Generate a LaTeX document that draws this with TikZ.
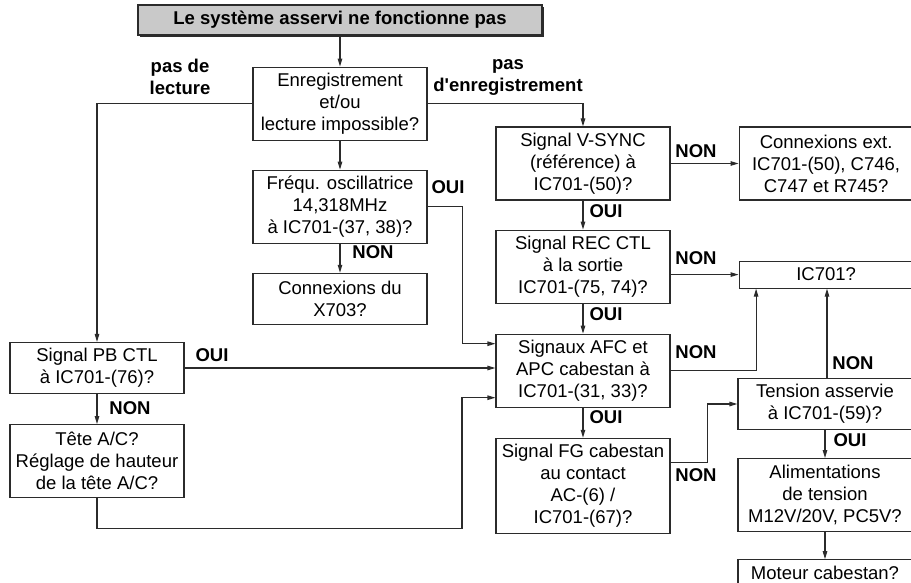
\documentclass[tikz,border=0pt]{standalone}
\usepackage{fontspec}
\setmainfont{Liberation Sans}
\usepackage{tikz}
\usetikzlibrary{arrows.meta, positioning, calc, shadows}
\definecolor{boxdraw}{HTML}{2B2B2B}
\definecolor{titlefill}{HTML}{C9C9C9}
\tikzset{
  blk/.style={rectangle, draw=boxdraw, line width=1.1pt, align=center, font=\fontsize{18.5pt}{22pt}\selectfont, inner xsep=1pt, inner ysep=0pt, minimum width=174pt},
  l1/.style={blk, minimum height=27pt},
  l2/.style={blk, minimum height=51pt},
  l3/.style={blk, minimum height=73pt},
  l4/.style={blk, minimum height=95pt},
  ttl/.style={blk, fill=titlefill, font=\bfseries\fontsize{18.5pt}{22pt}\selectfont, minimum width=404pt, minimum height=30pt,
    drop shadow={shadow xshift=1.6pt, shadow yshift=-1.6pt, fill=boxdraw, opacity=1}},
  lab/.style={font=\bfseries\fontsize{18.5pt}{22pt}\selectfont, align=center, inner sep=0pt},
  arr/.style={-{Triangle[length=8pt,width=4.5pt]}, line width=1.1pt, draw=boxdraw},
}

\begin{document}
\begin{tikzpicture}[x=1pt, y=-1pt]
  \useasboundingbox (0,0) rectangle (911,583);
  % boxes
  \node[ttl] (start) at (340,20) {Le système asservi ne fonctionne pas};
  \node[l3, below=31pt of start] (enr) {Enregistrement\\et/ou\\lecture impossible?};
  \node[l3, below=29pt of enr] (osc) {Fréqu. oscillatrice\\14,318MHz\\à IC701-(37, 38)?};
  \node[l2, below=29pt of osc] (x703) {Connexions du\\X703?};
  \node[l3] (vsync) at (583,163.5) {Signal V-SYNC\\(référence) à\\IC701-(50)?};
  \node[l3, right=68pt of vsync] (ext) {Connexions ext.\\IC701-(50), C746,\\C747 et R745?};
  \node[l3, below=29pt of vsync] (rec) {Signal REC CTL\\à la sortie\\IC701-(75, 74)?};
  \node[l1, right=68pt of rec, yshift=-8pt] (ic) {IC701?};
  \node[l3, below=30pt of rec] (afc) {Signaux AFC et\\APC cabestan à\\IC701-(31, 33)?};
  \node[l4, below=30pt of afc] (fg) {Signal FG cabestan\\au contact\\AC-(6) /\\IC701-(67)?};
  \node[l2] (tens) at (825,404) {Tension asservie\\à IC701-(59)?};
  \node[l3, below=28pt of tens] (alim) {Alimentations\\de tension\\M12V/20V, PC5V?};
  \node[l1, below=27pt of alim] (mot) {Moteur cabestan?};
  \node[l2] (pb) at (97,368) {Signal PB CTL\\à IC701-(76)?};
  \node[l3, below=30pt of pb] (tete) {Tête A/C?\\Réglage de hauteur\\de la tête A/C?};

  % connectors
  \draw[arr] (start) -- (enr);
  \draw[arr] (enr.west) -| (pb.north);
  \draw[arr] (enr.east) -| (vsync.north);
  \draw[arr] (enr) -- (osc);
  \draw[arr] (osc) -- (x703);
  \draw[arr] (osc.east) -- ++(35,0) |- ([yshift=27pt]afc.west);
  \draw[arr] (vsync) -- (ext);
  \draw[arr] (vsync) -- (rec);
  \draw[arr] (ic.west -| rec.east) -- (ic.west);
  \draw[arr] (rec) -- (afc);
  \draw[arr] (afc.east) -| ([xshift=-70pt]ic.south);
  \draw[arr] (afc) -- (fg);
  \draw[arr] ([yshift=23pt]fg.east) -- ++(37,0) |- (tens.west);
  \draw[arr] ([xshift=2pt]tens.north) -- ([xshift=2pt]tens.north |- ic.south);
  \draw[arr] (tens) -- (alim);
  \draw[arr] (alim) -- (mot);
  \draw[arr] (pb.east) -- (pb.east -| afc.west);
  \draw[arr] (pb) -- (tete);
  \draw[arr] (tete.south) |- ++(365,30) |- ([yshift=-27pt]afc.west);

  % labels
  \node[lab] (lb-lect) at (180,77) {pas de\\lecture};
  \node[lab] (lb-enr) at (508,77) {pas\\d\textquotesingle enregistrement};
  \node[lab] (lb-osc) at (373,252) {NON};
  \node[lab] (lb-oscoui) at (448,187) {OUI};
  \node[lab] (lb-vs) at (696,151) {NON};
  \node[lab] (lb-vsoui) at (606,211) {OUI};
  \node[lab] (lb-rec) at (696,258) {NON};
  \node[lab] (lb-recoui) at (606,314) {OUI};
  \node[lab] (lb-afc) at (696,352) {NON};
  \node[lab] (lb-afcoui) at (606,417) {OUI};
  \node[lab] (lb-fg) at (696,475) {NON};
  \node[lab] (lb-tens) at (853,363) {NON};
  \node[lab] (lb-tensoui) at (850,440) {OUI};
  \node[lab] (lb-pb) at (212,355) {OUI};
  \node[lab] (lb-pbnon) at (130,408) {NON};
\end{tikzpicture}
\end{document}
